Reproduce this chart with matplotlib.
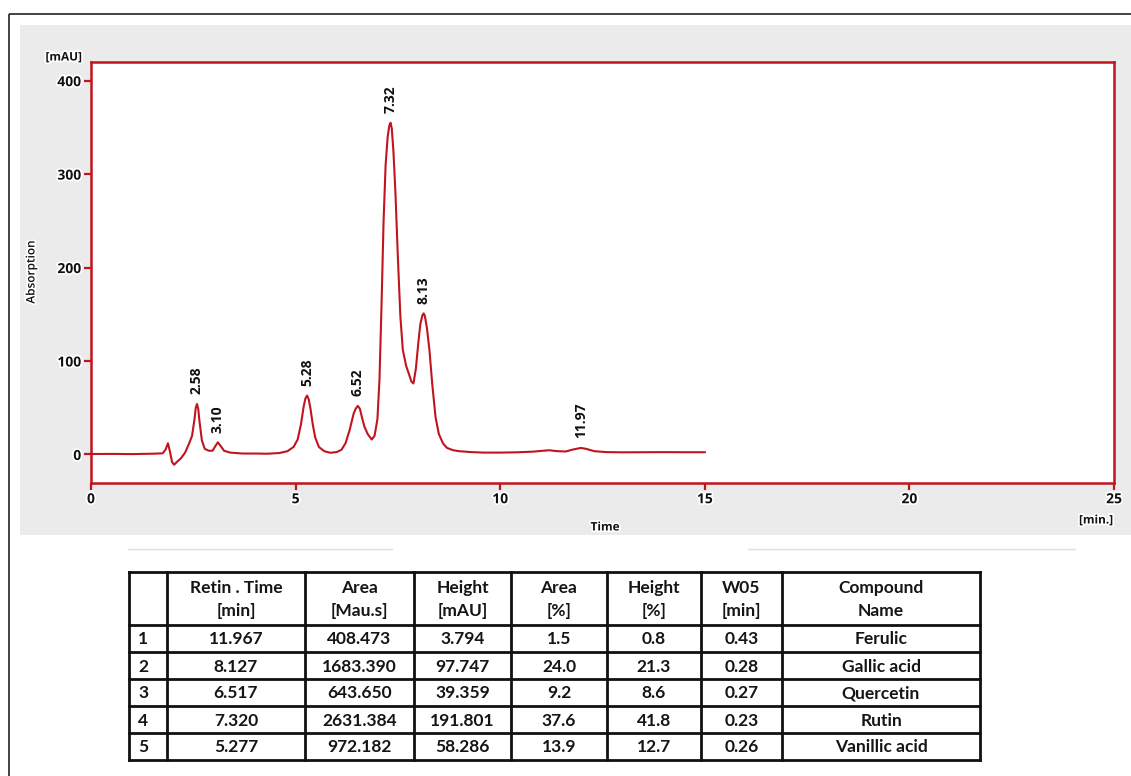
import matplotlib.pyplot as plt
import matplotlib.patches as mpatches
import matplotlib.patheffects as pe

# chromatogram trace (time in min, signal in mAU)
time_min = [0.0, 0.5, 1.0, 1.5, 1.75, 1.82, 1.88, 1.93, 1.98, 2.03, 2.10, 2.20,
            2.30, 2.40, 2.47, 2.53, 2.56, 2.59, 2.62, 2.65, 2.71, 2.78, 2.88,
            2.97, 3.04, 3.10, 3.17, 3.25, 3.40, 3.70, 4.00, 4.30, 4.60, 4.80,
            4.95, 5.05, 5.13, 5.20, 5.24, 5.28, 5.32, 5.36, 5.42, 5.48, 5.57,
            5.70, 5.85, 6.00, 6.12, 6.22, 6.32, 6.42, 6.47, 6.52, 6.57, 6.62,
            6.68, 6.76, 6.86, 6.93, 7.00, 7.05, 7.10, 7.15, 7.20, 7.25, 7.29,
            7.32, 7.35, 7.39, 7.44, 7.50, 7.56, 7.62, 7.70, 7.77, 7.83, 7.88,
            7.94, 8.00, 8.05, 8.10, 8.13, 8.16, 8.21, 8.27, 8.34, 8.42, 8.50,
            8.60, 8.70, 8.85, 9.00, 9.30, 9.60, 10.0, 10.4, 10.8, 11.0, 11.2,
            11.4, 11.6, 11.8, 11.97, 12.1, 12.3, 12.6, 13.0, 13.5, 14.0, 14.5,
            15.0]
signal_mau = [0.5, 0.6, 0.4, 0.8, 1.2, 5, 12, 3, -8, -11, -8, -4,
              2, 12, 20, 38, 50, 54, 49, 36, 15, 6, 4,
              4, 9, 13, 9, 4, 2, 1, 1, 0.8, 1.5, 3.5,
              8, 16, 32, 52, 60, 63, 59, 50, 32, 18, 8,
              3.5, 1.8, 2.5, 5, 12, 26, 44, 49, 52, 49, 40,
              30, 22, 16, 20, 38, 80, 160, 250, 310, 340, 352,
              355, 349, 325, 280, 210, 148, 112, 95, 86, 78, 76,
              92, 120, 140, 149, 151, 148, 135, 112, 75, 40, 22,
              12, 7, 4.5, 3.5, 2.5, 2.0, 2.0, 2.3, 3.0, 3.8, 4.5,
              3.5, 3.2, 5.5, 7, 6, 3.5, 2.5, 2.3, 2.4, 2.5, 2.4,
              2.4]

peak_labels = ['2.58', '3.10', '5.28', '6.52', '7.32', '8.13', '11.97']
peak_tops = [54, 13, 63, 52, 355, 151, 7]

# peak table
col_heads = ['', 'Retin . Time\n[min]', 'Area\n[Mau.s]', 'Height\n[mAU]', 'Area\n[%]',
             'Height\n[%]', 'W05\n[min]', 'Compound\nName']
row_no = ['1', '2', '3', '4', '5']
ret_time = ['11.967', '8.127', '6.517', '7.320', '5.277']
area = ['408.473', '1683.390', '643.650', '2631.384', '972.182']
height = ['3.794', '97.747', '39.359', '191.801', '58.286']
area_pct = ['1.5', '24.0', '9.2', '37.6', '13.9']
height_pct = ['0.8', '21.3', '8.6', '41.8', '12.7']
w05 = ['0.43', '0.28', '0.27', '0.23', '0.26']
compound = ['Ferulic', 'Gallic acid', 'Quercetin', 'Rutin', 'Vanillic acid']

RED = '#c0141e'
W, H = 1131, 776

fig = plt.figure(figsize=(W / 100, H / 100), dpi=100)
fig.patch.set_facecolor('white')

# background layer in pixel coords
bg = fig.add_axes([0, 0, 1, 1], zorder=0)
bg.set_xlim(0, W)
bg.set_ylim(H, 0)
bg.axis('off')
bg.add_patch(mpatches.Rectangle((20, 25), W, 510, facecolor='#ebebeb', edgecolor='none'))
bg.add_patch(mpatches.Rectangle((9, 14), W + 50, H + 50, fill=False,
                                edgecolor='#333333', lw=1.3))
bg.plot([128, 392], [549, 549], color='#dddddd', lw=1)
bg.plot([748, 1075], [549, 549], color='#dddddd', lw=1)

halo = [pe.withStroke(linewidth=2.5, foreground='white')]
chart_font = dict(family='Open Sans', fontweight='bold', color='#111111')

ax = fig.add_axes([91 / W, 1 - 482.5 / H, (1114 - 91) / W, (482.5 - 62) / H], zorder=1)
ax.set_facecolor('white')
ax.plot(time_min, signal_mau, color=RED, lw=1.5, solid_joinstyle='round')
ax.set_xlim(0, 25)
ax.set_ylim(-30, 420)
ax.set_xticks([0, 5, 10, 15, 20, 25])
ax.set_yticks([0, 100, 200, 300, 400])
for s in ax.spines.values():
    s.set_color(RED)
    s.set_linewidth(1.8)
ax.tick_params(colors=RED, width=1.6, length=5, direction='out', pad=2)
for lab in ax.get_xticklabels() + ax.get_yticklabels():
    lab.set_color('#111111')
    lab.set_fontsize(10)
    lab.set_fontfamily('Open Sans')
    lab.set_fontweight('bold')
    lab.set_path_effects(halo)

for lab, top in zip(peak_labels, peak_tops):
    ax.annotate(lab, xy=(float(lab), top), xytext=(0, 7), textcoords='offset points',
                rotation=90, ha='center', va='bottom', fontsize=10, **chart_font)

bg.text(82, 57, '[mAU]', ha='right', va='center', fontsize=8.5, path_effects=halo, **chart_font)
bg.text(31, 272, 'Absorption', rotation=90, ha='center', va='center', fontsize=8.5,
        family='Open Sans', fontweight='semibold', color='#111111', path_effects=halo)
bg.text(605, 527, 'Time', ha='center', va='center', fontsize=8.5, path_effects=halo, **chart_font)
bg.text(1113, 520, '[min.]', ha='right', va='center', fontsize=8.5, path_effects=halo, **chart_font)

# table drawn in pixel coords
col_x = [129, 167, 305, 414, 511, 607, 701, 782, 980]
row_y = [572, 625, 652, 679, 706, 733, 760]
for x in col_x:
    bg.plot([x, x], [row_y[0], row_y[-1]], color='#111111', lw=2, solid_capstyle='projecting')
for y in row_y:
    bg.plot([col_x[0], col_x[-1]], [y, y], color='#111111', lw=2, solid_capstyle='projecting')

tab_font = dict(family='Lato', fontweight='bold', color='#151515', fontsize=12.5)
for j, head in enumerate(col_heads):
    bg.text((col_x[j] + col_x[j + 1]) / 2, (row_y[0] + row_y[1]) / 2 + 1, head,
            ha='center', va='center', linespacing=1.5, **tab_font)

columns = [row_no, ret_time, area, height, area_pct, height_pct, w05, compound]
for j, col in enumerate(columns):
    for i, val in enumerate(col):
        yc = (row_y[i + 1] + row_y[i + 2]) / 2 + 1
        if j == 0:
            bg.text(col_x[0] + 9, yc, val, ha='left', va='center', **tab_font)
        else:
            bg.text((col_x[j] + col_x[j + 1]) / 2, yc, val, ha='center', va='center', **tab_font)

fig.savefig('out.png', dpi=100)
